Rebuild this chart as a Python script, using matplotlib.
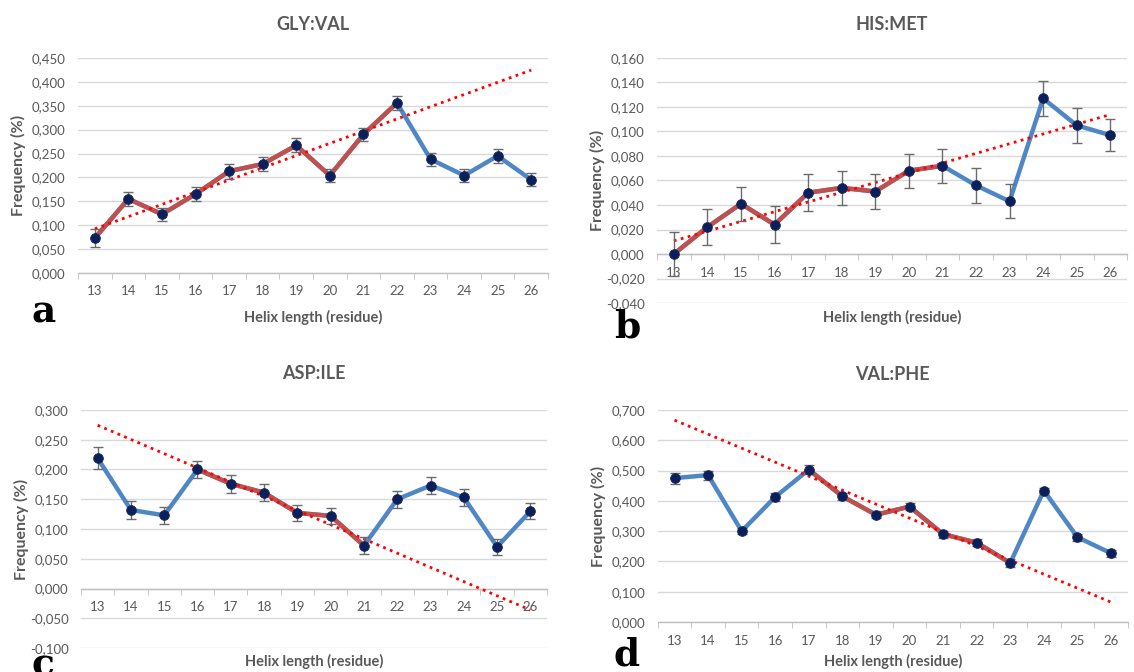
import matplotlib
matplotlib.use("Agg")
import matplotlib.pyplot as plt
import numpy as np
from matplotlib.ticker import FuncFormatter, MultipleLocator

plt.rcParams['font.family'] = ['Lato', 'DejaVu Sans']

helix = [13, 14, 15, 16, 17, 18, 19, 20, 21, 22, 23, 24, 25, 26]

# GLY:VAL
gly_val = [0.073, 0.155, 0.123, 0.165, 0.213, 0.228, 0.267, 0.204, 0.290, 0.356, 0.238, 0.204, 0.245, 0.195]
gly_val_err = [0.018, 0.0145, 0.014, 0.0145, 0.016, 0.0145, 0.0145, 0.014, 0.0145, 0.014, 0.014, 0.0145, 0.014, 0.014]
# HIS:MET
his_met = [0.000, 0.022, 0.041, 0.024, 0.050, 0.054, 0.051, 0.068, 0.072, 0.056, 0.043, 0.127, 0.105, 0.097]
his_met_err = [0.018, 0.015, 0.014, 0.015, 0.015, 0.014, 0.014, 0.014, 0.014, 0.014, 0.014, 0.014, 0.014, 0.013]
# ASP:ILE
asp_ile = [0.219, 0.132, 0.123, 0.200, 0.176, 0.161, 0.127, 0.122, 0.072, 0.150, 0.173, 0.153, 0.070, 0.130]
asp_ile_err = [0.018, 0.015, 0.014, 0.015, 0.015, 0.014, 0.014, 0.014, 0.014, 0.014, 0.014, 0.014, 0.014, 0.013]
# VAL:PHE
val_phe = [0.475, 0.485, 0.300, 0.413, 0.503, 0.415, 0.354, 0.381, 0.290, 0.262, 0.195, 0.434, 0.280, 0.227]
val_phe_err = [0.018, 0.015, 0.010, 0.012, 0.014, 0.012, 0.012, 0.012, 0.012, 0.012, 0.012, 0.008, 0.012, 0.012]

BLUE = '#4F86C6'
RED = '#C0504D'
NAVY = '#0B1F5C'
GRIS = '#595959'

# painel: titulo, valores, erros, trecho vermelho (inicio, fim), ylim, passo, posicao
paineis = [
    ("GLY:VAL", gly_val, gly_val_err, (13, 22), (0.0, 0.45), 0.05, [0.0688, 0.5938, 0.4145, 0.3199], "a", (44, 312)),
    ("HIS:MET", his_met, his_met_err, (13, 21), (-0.04, 0.16), 0.02, [0.5794, 0.5491, 0.4145, 0.3646], "b", (627, 327)),
    ("ASP:ILE", asp_ile, asp_ile_err, (16, 21), (-0.1, 0.3), 0.05, [0.0714, 0.0357, 0.4110, 0.3542], "c", (43, 665)),
    ("VAL:PHE", val_phe, val_phe_err, (17, 23), (0.0, 0.7), 0.1, [0.5800, 0.0744, 0.4145, 0.3155], "d", (627, 655)),
]

fig = plt.figure(figsize=(11.34, 6.72), dpi=100)

for titulo, y, err, (ini, fim), ylim, passo, pos, letra, (lx, ly) in paineis:
    ax = fig.add_axes(pos)
    x = np.arange(len(helix))
    y = np.array(y)
    i0, i1 = helix.index(ini), helix.index(fim)

    ax.plot(x, y, color=BLUE, lw=3.2, zorder=3, solid_capstyle='round')
    ax.plot(x[i0:i1 + 1], y[i0:i1 + 1], color=RED, lw=3.2, zorder=4, solid_capstyle='round')

    # linha de tendencia linear do trecho vermelho, estendida sobre todo o eixo
    coef = np.polyfit(x[i0:i1 + 1], y[i0:i1 + 1], 1)
    xt = np.array([x[0], x[-1]])
    ax.plot(xt, np.polyval(coef, xt), color='#FF0000', lw=2.0, linestyle=(0, (1, 1.6)), zorder=5)

    ax.errorbar(x, y, yerr=err, fmt='none', ecolor='#6b6b6b', elinewidth=1.0, capsize=3.5, capthick=1.0, zorder=6)
    ax.plot(x, y, 'o', color=NAVY, markersize=7, markeredgecolor='#1a2a55', markeredgewidth=0.6, zorder=7)

    ax.set_xlim(-0.5, len(helix) - 0.5)
    ax.set_ylim(*ylim)
    ax.yaxis.set_major_locator(MultipleLocator(passo))
    ax.yaxis.set_major_formatter(FuncFormatter(lambda v, p: f"{v:.3f}".replace('.', ',')))
    ax.yaxis.grid(True, color='#d9d9d9', lw=1.0)
    ax.set_axisbelow(True)

    for s in ['top', 'right', 'left']:
        ax.spines[s].set_visible(False)
    ax.spines['bottom'].set_position(('data', 0))
    ax.spines['bottom'].set_color('#bfbfbf')
    ax.spines['bottom'].set_linewidth(1.0)

    ax.set_xticks(x)
    ax.set_xticklabels([str(h) for h in helix])
    ax.set_xticks(np.arange(-0.5, len(helix), 1), minor=True)
    ax.tick_params(axis='x', which='major', length=0, pad=9, labelsize=9.5, labelcolor=GRIS)
    ax.tick_params(axis='x', which='minor', length=4, color='#bfbfbf', direction='out')
    ax.tick_params(axis='y', length=0, pad=9, labelsize=9.5, labelcolor=GRIS)

    h_px = pos[3] * 672
    w_px = pos[2] * 1134
    fundo_px = pos[1] * 672

    ax.set_ylabel("Frequency (%)", fontsize=11.5, fontweight='bold', color=GRIS)
    ax.yaxis.set_label_coords(-52 / w_px, 0.5)
    ax.set_xlabel("Helix length (residue)", fontsize=10.5, fontweight='bold', color=GRIS)
    xl_y = 1 - (317 if pos[1] > 0.5 else 661) / 672
    ax.xaxis.set_label_coords(0.5, (xl_y * 672 - fundo_px) / h_px)
    ax.xaxis.label.set_verticalalignment('center')

    t_y = 1 - (25 if pos[1] > 0.5 else 374) / 672
    ax.text(0.5, (t_y * 672 - fundo_px) / h_px, titulo, transform=ax.transAxes, ha='center', va='center',
            fontsize=13, fontweight='bold', color=GRIS)

    fig.text(lx / 1134, 1 - ly / 672, letra, ha='center', va='center', fontsize=27,
             fontweight='bold', family='DejaVu Serif', color='black')

fig.savefig("out.png", dpi=100, facecolor='white')
